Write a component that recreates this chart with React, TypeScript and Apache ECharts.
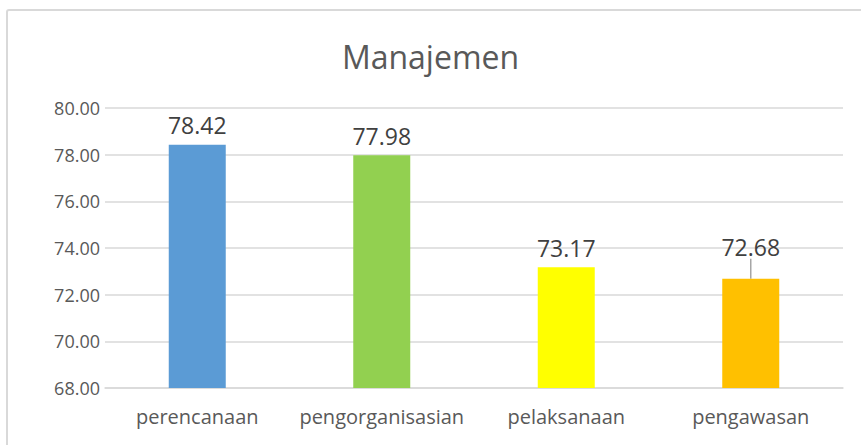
import React, { useEffect, useRef } from "react";
import * as echarts from "echarts";

const categories = ["perencanaan", "pengorganisasian", "pelaksanaan", "pengawasan"];
const values = [78.42, 77.98, 73.17, 72.68];
const barColors = ["#5B9BD5", "#92D050", "#FFFF00", "#FFC000"];
const yMin = 68;
const yMax = 80;
const yStep = 2;

export default function App() {
  const ref = useRef<HTMLDivElement>(null);
  useEffect(() => {
    document.body.style.margin = "0";
    const chart = echarts.init(ref.current!, null, { renderer: "svg" });
    const font = "'Open Sans', sans-serif";
    chart.setOption({
      animation: false,
      backgroundColor: "#ffffff",
      title: {
        text: "Manajemen",
        left: "center",
        top: 35,
        textStyle: { fontFamily: font, fontSize: 32, fontWeight: "normal", color: "#595959" },
      },
      graphic: [
        {
          type: "rect",
          shape: { x: 7, y: 10, width: 900, height: 500, r: 2 },
          style: { fill: "none", stroke: "#d9d9d9", lineWidth: 2 },
          silent: true,
          z: 100,
        },
      ],
      grid: { left: 105, right: 18, top: 108, bottom: 57, containLabel: false },
      xAxis: {
        type: "category",
        data: categories,
        axisLine: { show: true, lineStyle: { color: "#d9d9d9", width: 1.5 } },
        axisTick: { show: false },
        axisLabel: { interval: 0, fontFamily: font, fontSize: 20, color: "#595959", margin: 18 },
      },
      yAxis: {
        type: "value",
        min: yMin,
        max: yMax,
        interval: yStep,
        axisLine: { show: false },
        axisTick: { show: false },
        splitLine: { lineStyle: { color: "#d9d9d9", width: 1.5 } },
        axisLabel: {
          fontFamily: font,
          fontSize: 18,
          color: "#595959",
          margin: 5,
          formatter: (v: number) => v.toFixed(2),
        },
      },
      series: [
        {
          type: "bar",
          barWidth: 57,
          data: values.map((v, i) => ({
            value: v,
            itemStyle: { color: barColors[i] },
            labelLine: { show: i === 3, lineStyle: { color: "#a6a6a6", width: 1.5 } },
          })),
          label: {
            show: true,
            position: "top",
            distance: 8,
            fontFamily: font,
            fontSize: 23,
            color: "#404040",
            formatter: (p: any) => Number(p.value).toFixed(2),
          },
          labelLayout: (p: any) => (p.dataIndex === 3 ? { dy: -12 } : {}),
        },
      ],
    });
    return () => chart.dispose();
  }, []);
  return <div ref={ref} style={{ position: "fixed", left: 0, top: 0, width: 861, height: 445 }} />;
}
